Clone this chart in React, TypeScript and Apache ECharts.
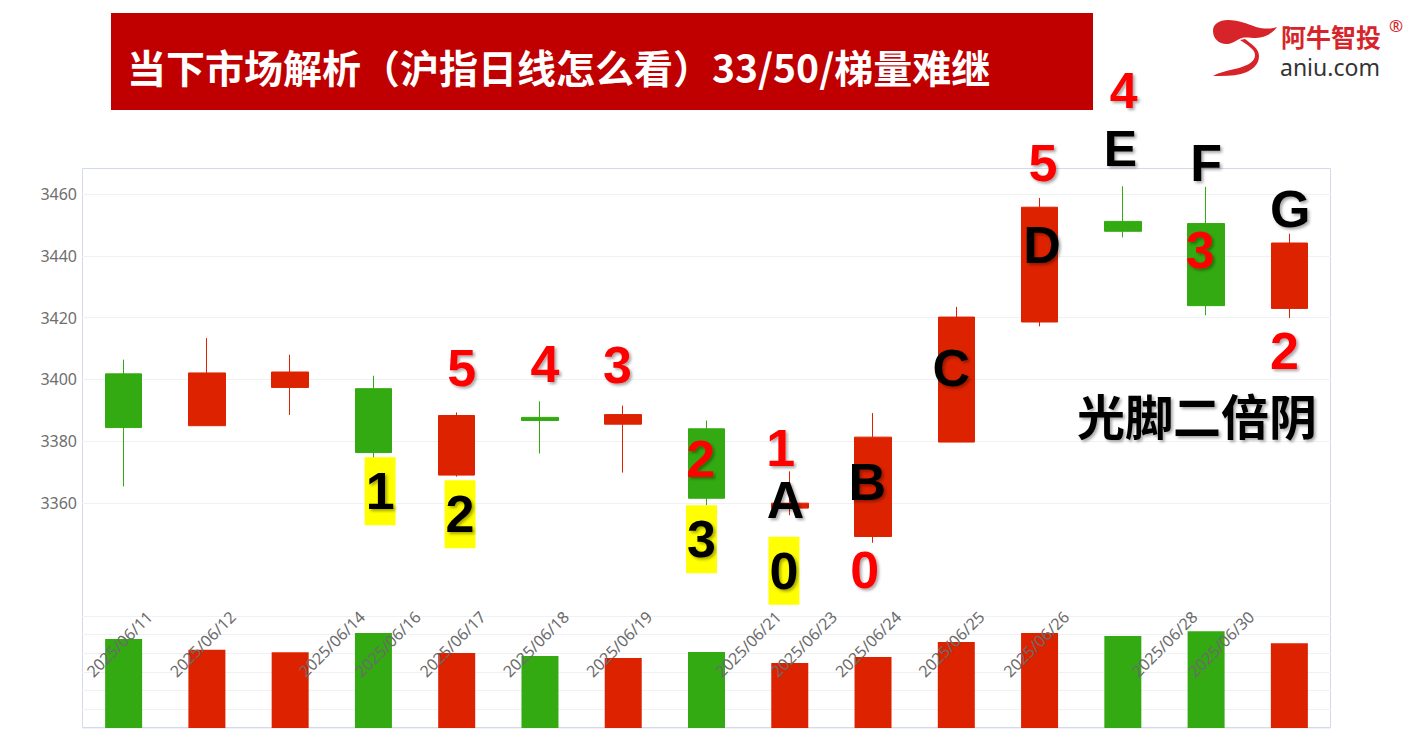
import React, { useEffect, useRef } from 'react';
import * as echarts from 'echarts';

// ---------- data ----------
const tradeDays = [
  '2025/06/11', '2025/06/12', '2025/06/13', '2025/06/16', '2025/06/17',
  '2025/06/18', '2025/06/19', '2025/06/20', '2025/06/23', '2025/06/24',
  '2025/06/25', '2025/06/26', '2025/06/27', '2025/06/30', '2025/07/01',
];
// [open, close, low, high]
const ohlc = [
  [3401.8, 3384.4, 3365.3, 3406.4],
  [3385.0, 3402.1, 3385.0, 3413.4],
  [3397.4, 3402.4, 3388.5, 3408.0],
  [3397.0, 3376.3, 3374.5, 3401.2],
  [3369.0, 3388.3, 3368.5, 3389.3],
  [3387.7, 3386.7, 3376.0, 3392.9],
  [3385.5, 3388.6, 3369.8, 3391.5],
  [3384.0, 3361.5, 3359.3, 3386.7],
  [3358.3, 3359.9, 3356.0, 3370.2],
  [3349.1, 3381.3, 3347.1, 3389.1],
  [3379.7, 3420.2, 3379.7, 3423.5],
  [3418.6, 3455.8, 3417.2, 3458.8],
  [3451.2, 3448.0, 3446.0, 3462.6],
  [3450.5, 3423.9, 3420.8, 3462.4],
  [3423.0, 3444.2, 3419.9, 3447.2],
];
const volumes = [4770, 4190, 4060, 5090, 4020, 3860, 3750, 4070, 3480, 3800, 4610, 5090, 4930, 5180, 4540];

const dateLabels = [
  '2025/06/11', '2025/06/12', '2025/06/14', '2025/06/16', '2025/06/17', '2025/06/18', '2025/06/19',
  '2025/06/21', '2025/06/23', '2025/06/24', '2025/06/25', '2025/06/26', '2025/06/28', '2025/06/30',
];
const dateLabelPos = [-0.05, 0.95, 2.5, 3.17, 3.95, 4.95, 5.95, 7.5, 8.17, 8.94, 9.94, 10.96, 12.5, 13.18];

// annotations placed in (candle index, price) coordinates
const annoText = ['5', '4', '3', '2', '1', '0', '5', '4', '3', '2',
  'A', 'B', 'C', 'D', 'E', 'F', 'G',
  '1', '2', '3', '0', '光脚二倍阴'];
const annoX = [4.06, 5.06, 5.93, 6.93, 7.89, 8.9, 11.04, 12.01, 12.93, 13.94,
  7.95, 8.93, 9.94, 11.03, 11.97, 13.0, 14.01,
  3.08, 4.04, 6.94, 7.93, 12.89];
const annoY = [3403.7, 3405.0, 3404.7, 3374.2, 3377.8, 3338.3, 3470.0, 3493.5, 3441.8, 3409.3,
  3360.9, 3366.9, 3403.6, 3443.6, 3474.5, 3470.0, 3455.2,
  3363.8, 3356.3, 3348.2, 3338.0, 3388.8];
const annoKind = ['red', 'red', 'red', 'red', 'red', 'red', 'red', 'redTop', 'red', 'red',
  'black', 'black', 'black', 'black', 'blackTop', 'black', 'black',
  'yellow', 'yellow', 'yellow', 'yellow', 'cjk'];

const titleText = '当下市场解析（沪指日线怎么看）33/50/梯量难继';

// ---------- styles ----------
const UP = '#dd2200';
const DOWN = '#33aa11';
const LATIN = '"Liberation Sans", Arial, sans-serif';
const CJK = '"Noto Sans CJK SC", "Noto Sans", sans-serif';
const AXIS_FONT = '"Noto Sans", "Open Sans", sans-serif';

const LOGO_PATH =
  'M1 12 C1 5 7 1 16 1 C27 1 36 5 44 8 C52 10 59 10 65 8 C60 15 52 19 44 19 C38 19 34 18 30 19 C26 20 22 24 16 25 C8 26 1 20 1 12 Z ' +
  'M28 21 L33 20 C39 25 47 29 47 37 C47 46 40 52 29 55 C21 57 11 57 1 57 C8 53 19 51 27 49 C37 46 43 42 43 36 C43 30 35 26 28 21 Z';

const kindStyle: Record<string, any> = {
  red: { color: '#ff0000', fontSize: 52, lineHeight: 42, fontFamily: LATIN },
  redTop: { color: '#ff0000', fontSize: 50, lineHeight: 40, fontFamily: LATIN },
  black: { color: '#000000', fontSize: 52, lineHeight: 42, fontFamily: LATIN },
  blackTop: { color: '#000000', fontSize: 50, lineHeight: 40, fontFamily: LATIN },
  yellow: {
    color: '#000000', fontSize: 52, fontFamily: LATIN, backgroundColor: '#ffff00',
    padding: [8, 1, 8, 1], lineHeight: 52,
  },
  cjk: { color: '#000000', fontSize: 48, lineHeight: 46, fontFamily: CJK },
};

let logoRegistered = false;

export default function App() {
  const ref = useRef<HTMLDivElement>(null);

  useEffect(() => {
    document.body.style.margin = '0';
    if (!logoRegistered) {
      echarts.graphic.registerShape('aniuLogo', echarts.graphic.extendPath(LOGO_PATH, {}) as any);
      logoRegistered = true;
    }
    const chart = echarts.init(ref.current as HTMLDivElement, undefined, { renderer: 'svg' });

    const volumeData = volumes.map((v, i) => ({
      value: v,
      itemStyle: { color: ohlc[i][1] >= ohlc[i][0] ? UP : DOWN },
    }));

    const annoData = annoText.map((t, i) => ({
      value: [annoX[i], annoY[i]],
      label: { ...kindStyle[annoKind[i]], formatter: t },
    }));

    const dateData = dateLabels.map((t, i) => ({
      value: [dateLabelPos[i], 4500],
      label: { formatter: t },
    }));

    const splitColor = '#eff1f5';

    const option: any = {
      animation: false,
      backgroundColor: '#ffffff',
      grid: [
        { left: 82, right: 86, top: 168, bottom: 196 },
        { left: 82, right: 86, top: 616, bottom: 11 },
      ],
      xAxis: [
        {
          type: 'category', gridIndex: 0, data: tradeDays, boundaryGap: true,
          axisLine: { show: false }, axisTick: { show: false }, axisLabel: { show: false }, splitLine: { show: false },
        },
        {
          type: 'category', gridIndex: 1, data: tradeDays, boundaryGap: true,
          axisLine: { show: false }, axisTick: { show: false }, axisLabel: { show: false }, splitLine: { show: false },
        },
        { type: 'value', gridIndex: 1, min: -0.5, max: 14.5, show: false },
        { type: 'value', gridIndex: 0, min: -0.5, max: 14.5, show: false },
      ],
      yAxis: [
        {
          type: 'value', gridIndex: 0, min: 3347, max: 3468.5, splitNumber: 7,
          minInterval: 20, maxInterval: 20,
          axisLine: { show: false }, axisTick: { show: false },
          axisLabel: {
            color: '#6e6e6e', fontSize: 16, fontFamily: AXIS_FONT, margin: 5,
            showMinLabel: false, showMaxLabel: false,
            formatter: (v: number) => String(v),
          },
          splitLine: { show: true, showMinLine: false, showMaxLine: false, lineStyle: { color: splitColor } },
        },
        {
          type: 'value', gridIndex: 1, min: 0, max: 6000, interval: 1000,
          axisLine: { show: false }, axisTick: { show: false }, axisLabel: { show: false },
          splitLine: { show: true, lineStyle: { color: splitColor } },
        },
      ],
      series: [
        {
          type: 'candlestick', xAxisIndex: 0, yAxisIndex: 0, data: ohlc, barWidth: 37,
          itemStyle: { color: UP, color0: DOWN, borderColor: UP, borderColor0: DOWN, borderWidth: 1 },
          silent: true,
        },
        {
          type: 'bar', xAxisIndex: 1, yAxisIndex: 1, data: volumeData, barWidth: 37, silent: true,
        },
        {
          type: 'scatter', xAxisIndex: 2, yAxisIndex: 1, data: dateData, symbolSize: 1, clip: false, z: 5,
          itemStyle: { color: 'rgba(0,0,0,0)', opacity: 1 }, silent: true,
          label: {
            show: true, position: 'inside', rotate: 45, fontSize: 16, color: '#6b6b6b', fontFamily: AXIS_FONT,
            opacity: 1,
          },
        },
        {
          type: 'scatter', xAxisIndex: 3, yAxisIndex: 0, data: annoData, symbolSize: 1, clip: false, z: 10,
          itemStyle: { color: 'rgba(0,0,0,0)', opacity: 1 }, silent: true,
          label: {
            show: true, position: 'inside', fontWeight: 'bold', opacity: 1,
            textShadowColor: 'rgba(0,0,0,0.35)', textShadowBlur: 3, textShadowOffsetX: 2, textShadowOffsetY: 2,
          },
        },
      ],
      graphic: [
        {
          type: 'rect', z: 0, silent: true,
          shape: { x: 82.5, y: 168.5, width: 1248, height: 559 },
          style: { fill: 'none', stroke: '#d3dbea', lineWidth: 1 },
        },
        {
          type: 'rect', z: 1, silent: true,
          shape: { x: 111, y: 13, width: 982, height: 97 },
          style: { fill: '#c00000' },
        },
        {
          type: 'text', z: 2, silent: true, x: 127, y: 66,
          style: {
            text: titleText, fill: '#ffffff', fontSize: 39, fontWeight: 'bold', fontFamily: CJK,
            textAlign: 'left', textVerticalAlign: 'middle', align: 'left', verticalAlign: 'middle',
          },
        },
        {
          type: 'aniuLogo', z: 2, silent: true, x: 1212, y: 19, scaleX: 1, scaleY: 1,
          style: { fill: '#d7242a' },
        },
        {
          type: 'text', z: 2, silent: true, x: 1281, y: 36,
          style: {
            text: '阿牛智投', fill: '#d7242a', fontSize: 25, lineHeight: 22, fontWeight: 'bold', fontFamily: CJK,
            textAlign: 'left', textVerticalAlign: 'middle', align: 'left', verticalAlign: 'middle',
          },
        },
        {
          type: 'text', z: 2, silent: true, x: 1396, y: 25,
          style: {
            text: '®', fill: '#d7242a', fontSize: 17, lineHeight: 15, fontFamily: AXIS_FONT,
            textAlign: 'center', textVerticalAlign: 'middle', align: 'center', verticalAlign: 'middle',
          },
        },
        {
          type: 'text', z: 2, silent: true, x: 1280, y: 67,
          style: {
            text: 'aniu.com', fill: '#333333', fontSize: 23, lineHeight: 18, fontFamily: AXIS_FONT,
            textAlign: 'left', textVerticalAlign: 'middle', align: 'left', verticalAlign: 'middle',
          },
        },
      ],
    };

    chart.setOption(option);
    return () => chart.dispose();
  }, []);

  return (
    <div
      ref={ref}
      style={{ position: 'fixed', left: 0, top: 0, width: 1417, height: 739, background: '#ffffff' }}
    />
  );
}
